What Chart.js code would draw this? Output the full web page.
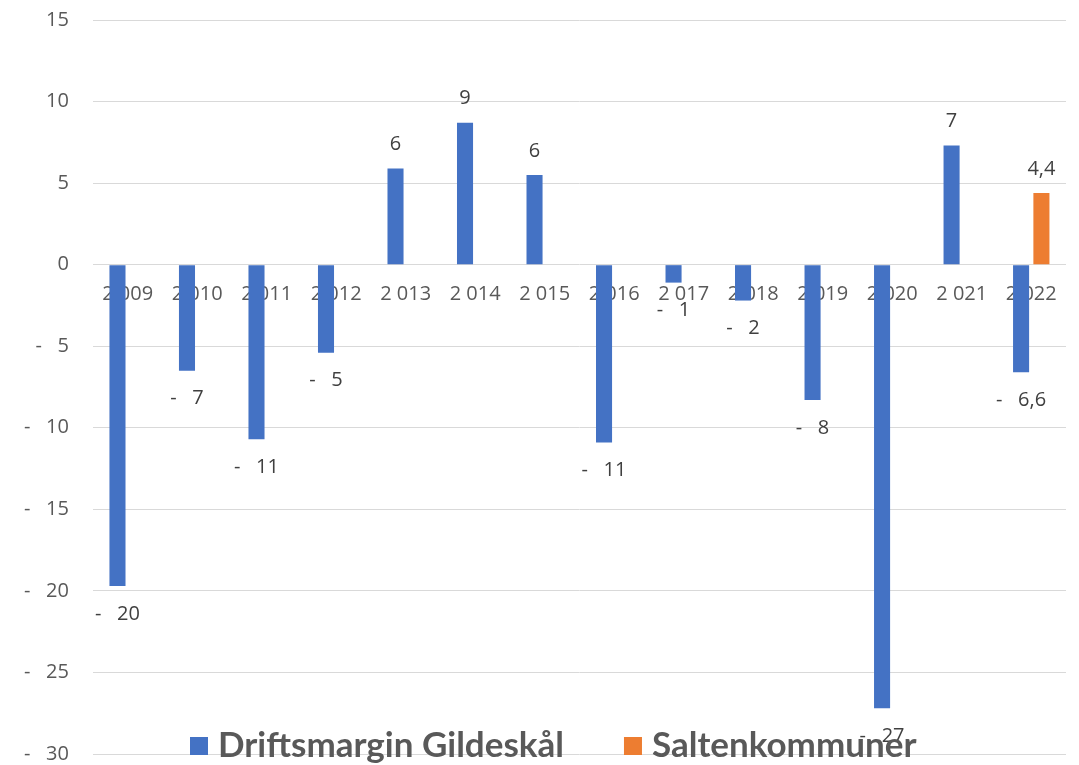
<!DOCTYPE html>
<html>
<head>
<meta charset="utf-8">
<script src="https://cdn.jsdelivr.net/npm/chart.js@4.4.1/dist/chart.umd.min.js"></script>
<style>
  html, body { margin: 0; padding: 0; background: #fff; }
  #wrap { position: relative; width: 1079px; height: 765px; }
</style>
</head>
<body>
<div id="wrap"><canvas id="chart" width="1079" height="765"></canvas></div>
<script>
// Chart data
const years = ['2 009', '2 010', '2 011', '2 012', '2 013', '2 014', '2 015',
               '2 016', '2 017', '2 018', '2 019', '2 020', '2 021', '2 022'];
const gildeskal = [-19.7, -6.5, -10.7, -5.4, 5.9, 8.7, 5.5,
                   -10.9, -1.1, -2.2, -8.3, -27.2, 7.3, -6.6];
const salten = [null, null, null, null, null, null, null,
                null, null, null, null, null, null, 4.4];
const labelDecimals = [0, 0, 0, 0, 0, 0, 0, 0, 0, 0, 0, 0, 0, 1];
const seriesNames = ['Driftsmargin Gildeskål', 'Saltenkommuner'];
const seriesColors = ['#4472C4', '#ED7D31'];
const yMin = -30;
const yMax = 15;
const yStep = 5;

// Excel style accounting format: "-   5", "4,4"
const formatValue = (v, dec) => {
    const s = Math.abs(v).toFixed(dec).replace('.', ',');
    return v < 0 ? '-   ' + s : s;
};

const tickFont = { family: "'Open Sans', sans-serif", size: 20 };

// Value labels above / below each bar
const barLabels = {
    id: 'barLabels',
    afterDatasetsDraw(chart) {
        const ctx = chart.ctx;
        ctx.save();
        ctx.font = "20px 'Open Sans', sans-serif";
        ctx.fillStyle = '#404040';
        ctx.textAlign = 'center';
        ctx.textBaseline = 'middle';
        chart.data.datasets.forEach((ds, di) => {
            chart.getDatasetMeta(di).data.forEach((bar, i) => {
                const v = ds.data[i];
                if (v === null || v === undefined) return;
                const y = v < 0 ? bar.y + 28 : bar.y - 24;
                ctx.fillText(formatValue(v, labelDecimals[i]), bar.x, y);
            });
        });
        ctx.restore();
    }
};

// Legend drawn over the bottom of the plot, like the original
const bottomLegend = {
    id: 'bottomLegend',
    afterDraw(chart) {
        const ctx = chart.ctx;
        ctx.save();
        ctx.font = "bold 35px Lato, sans-serif";
        ctx.textBaseline = 'middle';
        let x = 190;
        const y = 746;
        chart.data.datasets.forEach(ds => {
            ctx.fillStyle = ds.backgroundColor;
            ctx.fillRect(x, y - 9, 18, 18);
            x += 28;
            ctx.fillStyle = '#595959';
            ctx.fillText(ds.label, x, y);
            x += ctx.measureText(ds.label).width + 60;
        });
        ctx.restore();
    }
};

new Chart(document.getElementById('chart'), {
    type: 'bar',
    data: {
        labels: years,
        datasets: [
            {
                label: seriesNames[0],
                data: gildeskal,
                backgroundColor: seriesColors[0],
                borderWidth: 0
            },
            {
                label: seriesNames[1],
                data: salten,
                backgroundColor: seriesColors[1],
                borderWidth: 0
            }
        ]
    },
    options: {
        responsive: false,
        animation: false,
        datasets: {
            bar: {
                categoryPercentage: 0.585,
                barPercentage: 0.79
            }
        },
        layout: {
            padding: { top: 20, bottom: 11, left: 0, right: 13 }
        },
        plugins: {
            legend: { display: false },
            tooltip: { enabled: false }
        },
        scales: {
            x: {
                position: { y: 0 },
                z: 1,
                grid: { display: false, drawTicks: false },
                border: { display: false },
                ticks: {
                    color: '#595959',
                    font: tickFont,
                    padding: 18,
                    maxRotation: 0,
                    autoSkip: false
                }
            },
            y: {
                min: yMin,
                max: yMax,
                // the tick padding should only push the labels sideways
                afterFit: s => { s.paddingTop = 0; s.paddingBottom = 0; },
                grid: { color: '#D9D9D9', lineWidth: 1, drawTicks: false },
                border: { display: false },
                ticks: {
                    stepSize: yStep,
                    color: '#595959',
                    font: tickFont,
                    padding: 24,
                    callback: v => formatValue(v, 0)
                }
            }
        }
    },
    plugins: [barLabels, bottomLegend]
});
</script>
</body>
</html>
